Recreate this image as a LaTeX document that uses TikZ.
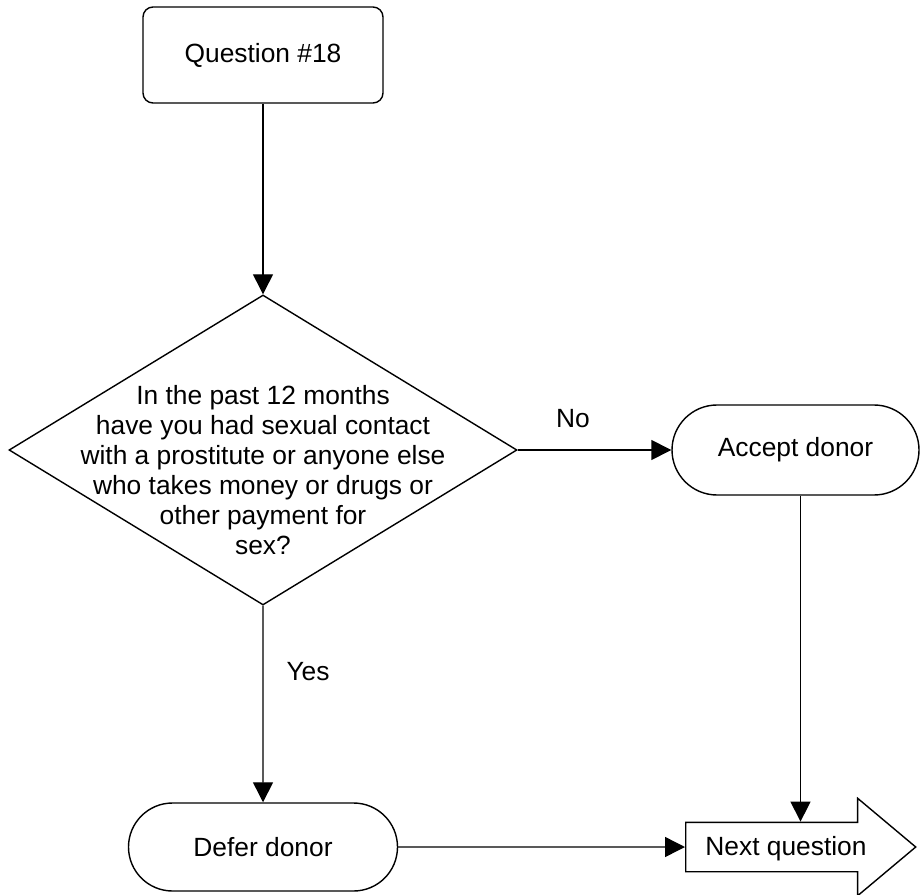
\documentclass[tikz,border=0pt]{standalone}
\usepackage{fontspec}
\setmainfont{Liberation Sans}
\usetikzlibrary{shapes.geometric,shapes.misc,shapes.arrows}
\usetikzlibrary{arrows.meta}
\tikzset{
  % style for the question box
  qbox/.style={draw,rounded corners=0.2cm,minimum width=4.8cm,minimum height=1.92cm},
  % style for the decision diamond
  decision/.style={draw,diamond,minimum width=10.16cm,minimum height=6.2cm,inner sep=0pt},
  % style for the start/end ovals
  terminal/.style={draw,rounded rectangle,minimum height=1.8cm,inner sep=0pt},
  % style for the arrow shaped box
  nextbox/.style={draw,single arrow,single arrow head extend=0.48cm,
    single arrow tip angle=80,minimum height=4.6cm,inner xsep=0pt,inner ysep=0pt,
    text height=0.64cm,text depth=0.32cm},
  % style for the connectors
  flow/.style={-{Triangle[length=0.4cm,width=0.4cm]}},
}

\begin{document}
\begin{tikzpicture}[line width=0.8pt,font=\fontsize{15}{17}\selectfont]
\useasboundingbox (0,0) rectangle (18.4,-17.88);
\node[qbox] (q18) at (5.26,-1.1) {Question \#18};
\node[decision] (sex) at (5.26,-9.0) {};
\node[align=center] (sextext) at (5.26,-9.4) {In the past 12 months\\have you had sexual contact\\with a prostitute or anyone else\\who takes money or drugs or\\other payment for\\sex?};
\node[terminal,minimum width=4.94cm] (accept) at (15.91,-9.0) {Accept donor};
\node[terminal,minimum width=5.38cm,minimum height=1.76cm] (defer) at (5.26,-16.94) {Defer donor};
\node[nextbox,anchor=tail] (nextq) at (13.7,-16.94) {Next question};
\node (nolbl) at (11.46,-8.38) {No};
\node (yeslbl) at (6.16,-13.44) {Yes};
\coordinate (accout) at ([xshift=0.1cm]accept.south);
\draw [flow] (q18) -- (sex);
\draw [flow] (sex) -- (accept);
\draw [flow] (sex) -- (defer);
\draw [flow] (defer) -- (nextq);
\draw [flow] (accout) -- (accout |- nextq.north);
\end{tikzpicture}
\end{document}
